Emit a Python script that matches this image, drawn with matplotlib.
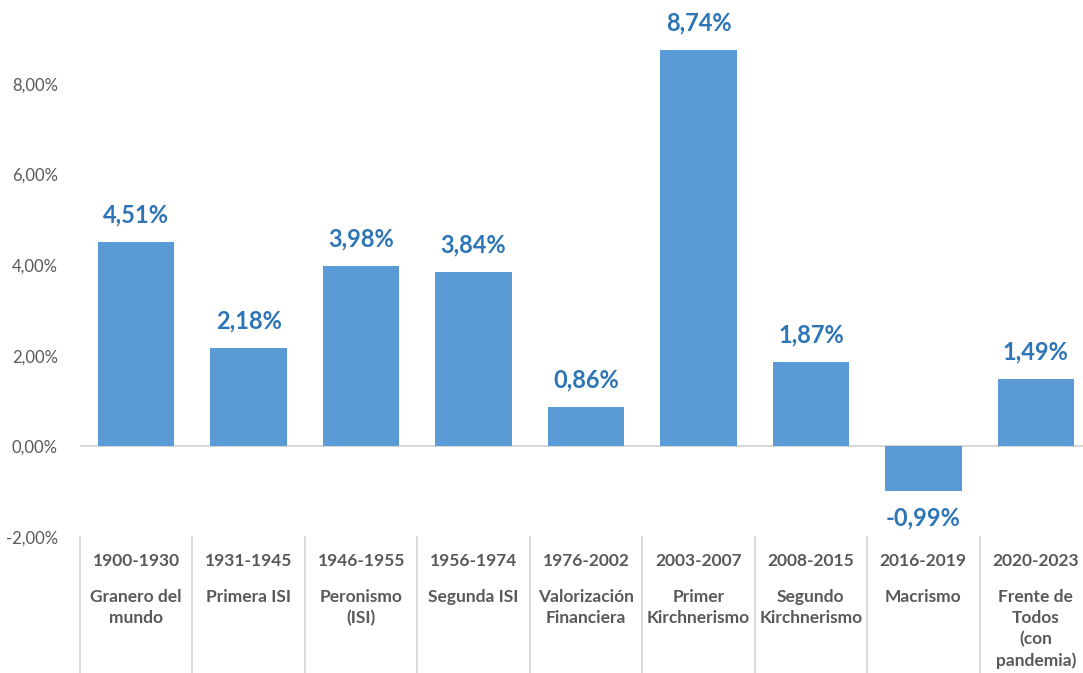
import matplotlib.pyplot as plt
import numpy as np

# datos del grafico
periodos = ["1900-1930", "1931-1945", "1946-1955", "1956-1974", "1976-2002",
            "2003-2007", "2008-2015", "2016-2019", "2020-2023"]
etapas = ["Granero del\nmundo", "Primera ISI", "Peronismo\n(ISI)", "Segunda ISI",
          "Valorización\nFinanciera", "Primer\nKirchnerismo", "Segundo\nKirchnerismo",
          "Macrismo", "Frente de\nTodos\n(con\npandemia)"]
valores = [4.51, 2.18, 3.98, 3.84, 0.86, 8.74, 1.87, -0.99, 1.49]
yticks = [-2, 0, 2, 4, 6, 8]

plt.rcParams['font.family'] = ['Lato', 'DejaVu Sans']

W, H = 1083, 673
fig = plt.figure(figsize=(W / 100, H / 100), dpi=100)
# el eje se sale por la derecha como en la imagen original
ax = fig.add_axes([80 / W, 1 - 537 / H, 1012 / W, 537 / H])

x = np.arange(len(valores))
ax.bar(x, valores, width=0.68, color='#5B9BD5', zorder=2)
ax.set_xlim(-0.5, len(valores) - 0.5)
ax.set_ylim(-2, 9.85)

ax.axhline(0, color='#D0D0D0', lw=1.2, zorder=1)

for xi, v in zip(x, valores):
    off = 27 if v >= 0 else -27
    ax.annotate(f"{v:.2f}%".replace('.', ','), (xi, v), xytext=(0, off),
                textcoords='offset pixels', ha='center', va='center',
                fontsize=17, fontweight='bold', color='#2E75B6')

ax.set_yticks(yticks)
ax.set_yticklabels([f"{t:.2f}%".replace('.', ',') for t in yticks],
                   fontsize=12, color='#595959')
ax.tick_params(axis='y', length=0, pad=16)
ax.set_xticks([])
for s in ax.spines.values():
    s.set_visible(False)

# separadores y etiquetas de categorias debajo del eje
trans = ax.get_xaxis_transform()
for b in np.arange(len(valores) + 1) - 0.5:
    ax.plot([b, b], [0, -136 / 537], transform=trans, color='#D9D9D9',
            lw=1.3, clip_on=False)
for xi, p, e in zip(x, periodos, etapas):
    ax.text(xi, -24 / 537, p, transform=trans, ha='center', va='center',
            fontsize=12.5, fontweight='bold', color='#595959')
    ax.text(xi, -52 / 537, e, transform=trans, ha='center', va='top',
            fontsize=12.5, fontweight='bold', color='#595959', linespacing=1.38)

fig.savefig('out.png', dpi=100)
